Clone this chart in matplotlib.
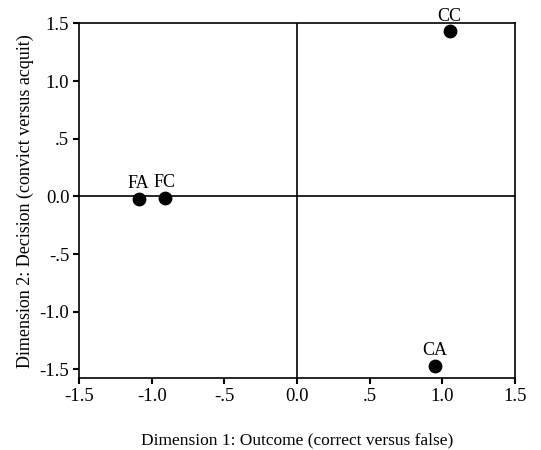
import numpy as np
import matplotlib.pyplot as plt

# Coordenadas das categorias
labels = ['FA', 'FC', 'CC', 'CA']
dim1 = [-1.09, -0.91, 1.05, 0.95]
dim2 = [-0.02, -0.01, 1.43, -1.47]

tick_vals = [-1.5, -1.0, -0.5, 0.0, 0.5, 1.0, 1.5]
tick_text = ['-1.5', '-1.0', '-.5', '0.0', '.5', '1.0', '1.5']


def main():
    plt.rcParams['font.family'] = ['Liberation Serif', 'DejaVu Serif']

    fig = plt.figure(figsize=(5.41, 4.5), dpi=100)
    ax = fig.add_axes([0.146, 0.16, 0.806, 0.788])

    ax.axhline(0, color='black', lw=1.2, zorder=1)
    ax.axvline(0, color='black', lw=1.2, zorder=1)
    ax.scatter(dim1, dim2, s=80, color='black', zorder=3)

    for lab, x, y in zip(labels, dim1, dim2):
        ax.annotate(lab, (x, y), xytext=(0, 5), textcoords='offset points',
                    ha='center', va='bottom', fontsize=13)

    ax.set_xlim(-1.5, 1.5)
    ax.set_ylim(-1.575, 1.5)
    ax.set_xticks(tick_vals)
    ax.set_xticklabels(tick_text)
    ax.set_yticks(tick_vals)
    ax.set_yticklabels(tick_text)
    ax.tick_params(direction='out', length=4, width=1.5, labelsize=13.5, pad=3)

    for s in ax.spines.values():
        s.set_linewidth(1.2)

    ax.set_xlabel('Dimension 1: Outcome (correct versus false)', fontsize=12.5, labelpad=20)
    ax.set_ylabel('Dimension 2: Decision (convict versus acquit)', fontsize=13, labelpad=4)

    fig.savefig('out.png', dpi=100)


if __name__ == '__main__':
    main()
